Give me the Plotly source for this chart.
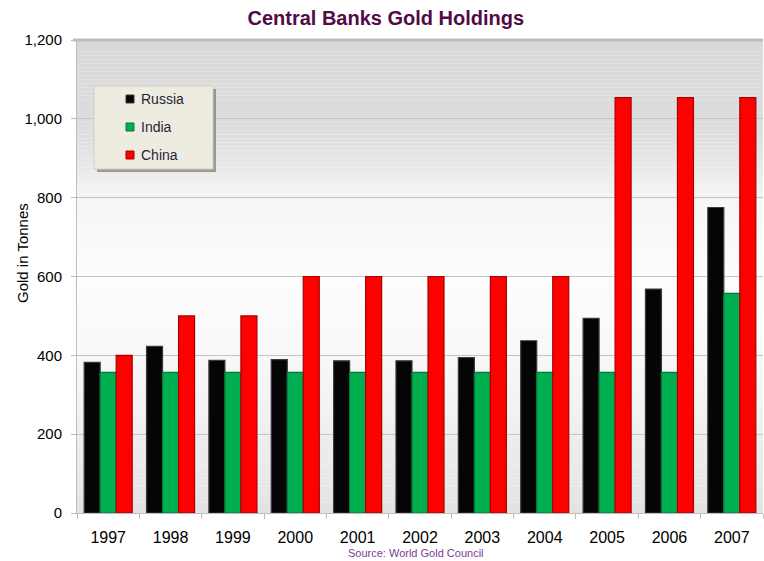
import plotly.graph_objects as go

# Central bank gold holdings, tonnes
years = ["1997", "1998", "1999", "2000", "2001", "2002", "2003", "2004", "2005", "2006", "2007"]
russia = [382, 423, 387, 389, 386, 386, 394, 437, 494, 568, 775]
india = [357, 357, 357, 357, 357, 357, 357, 357, 357, 357, 557]
china = [400, 500, 500, 600, 600, 600, 600, 600, 1054, 1054, 1054]

series = [
    ("Russia", russia, "#050505", "#3a3a3a"),
    ("India", india, "#00b050", "#007a38"),
    ("China", china, "#ff0000", "#a80000"),
]

FONT = "Liberation Sans, Arial, sans-serif"
PLOT_L, PLOT_T, PLOT_W, PLOT_H = 77, 40, 686, 473


def px_to_paper(px, py):
    """Convert window pixel position to paper coordinates of the plot area."""
    return (px - PLOT_L) / PLOT_W, (PLOT_T + PLOT_H - py) / PLOT_H


fig = go.Figure()
for name, vals, color, edge in series:
    fig.add_trace(go.Bar(
        x=years, y=vals, name=name, showlegend=False,
        marker=dict(color=color, line=dict(color=edge, width=1.2)),
    ))

# vertical gray-white-gray gradient behind the bars
stops = [(0, 226), (200, 238), (400, 248), (600, 253), (800, 245), (950, 222), (1200, 216)]


def gray_at(v):
    for (v0, g0), (v1, g1) in zip(stops[:-1], stops[1:]):
        if v0 <= v <= v1:
            t = (v - v0) / (v1 - v0)
            return round(g0 + (g1 - g0) * t)
    return stops[-1][1]


shapes = []
step = 10
for lo in range(0, 1200, step):
    g = gray_at(lo + step / 2)
    shapes.append(dict(
        type="rect", xref="x", yref="y", x0=-0.5, x1=len(years) - 0.5,
        y0=lo, y1=lo + step, line=dict(width=0),
        fillcolor=f"rgb({g},{g},{g})", layer="below",
    ))

# top frame line
shapes.append(dict(type="line", xref="paper", yref="paper", x0=-0.006, x1=1, y0=1, y1=1,
                   line=dict(color="#bdbdbd", width=3), layer="above"))

# legend panel with drop shadow
lx0, ly1 = px_to_paper(94, 86)
lx1, ly0 = px_to_paper(213, 169)
dx, dy = 3 / PLOT_W, 3 / PLOT_H
shapes.append(dict(type="rect", xref="paper", yref="paper",
                   x0=lx0 + dx, x1=lx1 + dx, y0=ly0 - dy, y1=ly1 - dy,
                   fillcolor="rgba(90,90,90,0.55)", line=dict(width=0), layer="above"))
shapes.append(dict(type="rect", xref="paper", yref="paper",
                   x0=lx0, x1=lx1, y0=ly0, y1=ly1,
                   fillcolor="#eeece1", line=dict(color="#d0cec4", width=1), layer="above"))

annotations = []
# legend entries: small colour square plus series name
for k, (name, vals, color, edge) in enumerate(series):
    cy = 99 + 28 * k
    sx0, sy1 = px_to_paper(126, cy - 4)
    sx1, sy0 = px_to_paper(134, cy + 4)
    shapes.append(dict(type="rect", xref="paper", yref="paper",
                       x0=sx0, x1=sx1, y0=sy0, y1=sy1,
                       fillcolor=color, line=dict(color=edge, width=1), layer="above"))
    tx, ty = px_to_paper(139, cy)
    annotations.append(dict(text=name, xref="paper", yref="paper", x=tx, y=ty,
                            xanchor="left", yanchor="middle", showarrow=False,
                            font=dict(family=FONT, size=14, color="#1f1f3a")))

ax, ay = px_to_paper(22, 253)
annotations.append(dict(text="Gold in Tonnes", textangle=-90, xref="paper", yref="paper",
                        x=ax, y=ay, xanchor="center", yanchor="middle", showarrow=False,
                        font=dict(family=FONT, size=15, color="#000000")))
sx, sy = px_to_paper(416, 553)
annotations.append(dict(text="Source: World Gold Council", xref="paper", yref="paper",
                        x=sx, y=sy, xanchor="center", yanchor="middle", showarrow=False,
                        font=dict(family=FONT, size=11, color="#7b3a9a")))

fig.update_layout(
    width=764, height=561,
    margin=dict(l=PLOT_L, r=764 - PLOT_L - PLOT_W, t=PLOT_T, b=561 - PLOT_T - PLOT_H),
    paper_bgcolor="white", plot_bgcolor="white",
    barmode="group", bargap=0.23, bargroupgap=0,
    font=dict(family=FONT, color="#000000"),
    title=dict(text="<b>Central Banks Gold Holdings</b>", x=0.505, xanchor="center",
               y=0.968, yanchor="middle",
               font=dict(family=FONT, size=20, color="#530b47")),
    shapes=shapes,
    annotations=annotations,
    showlegend=False,
    xaxis=dict(
        type="category", showgrid=False, zeroline=False,
        showline=True, linecolor="#bdbdbd", linewidth=1,
        ticks="outside", tickson="boundaries", ticklen=5, tickcolor="#bdbdbd",
        tickfont=dict(family=FONT, size=16, color="#000000"),
        ticklabelstandoff=10,
    ),
    yaxis=dict(
        range=[0, 1200], dtick=200, tickformat=",d",
        showgrid=True, gridcolor="#c4c4c4", gridwidth=1,
        zeroline=False, showline=True, linecolor="#bdbdbd", linewidth=1,
        ticks="outside", ticklen=5, tickcolor="#bdbdbd",
        tickfont=dict(family=FONT, size=15, color="#000000"),
        ticklabelstandoff=6,
    ),
)

fig.write_html("out.html")
